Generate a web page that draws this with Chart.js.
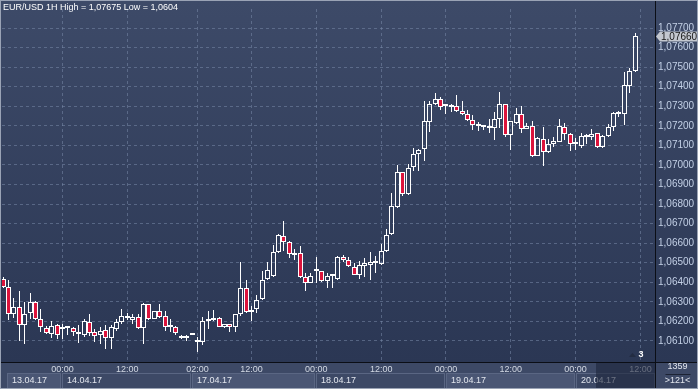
<!DOCTYPE html>
<html>
<head>
<meta charset="utf-8">
<script src="https://cdn.jsdelivr.net/npm/chart.js@4.4.1/dist/chart.umd.min.js"></script>
<style>
  html, body { margin: 0; padding: 0; background: #2f3b58; overflow: hidden; }
  #wrap { width: 698px; height: 389px; }
</style>
</head>
<body>
<div id="wrap"><canvas id="chart" width="698" height="389"></canvas></div>
<script>
// ── Data (EUR/USD 1H) ───────────────────────────────────────
const opens = [
  1.06419, 1.06378, 1.06236, 1.06273, 1.06183, 1.06241, 1.06298, 1.06211, 1.06166, 1.06136,
  1.06181, 1.06159, 1.06164, 1.06164, 1.06147, 1.06131, 1.06198, 1.06147, 1.06131, 1.06156,
  1.06116, 1.06159, 1.06196, 1.06224, 1.06207, 1.06223, 1.06166, 1.06289, 1.06214, 1.06252,
  1.06228, 1.06174, 1.06174, 1.06127, 1.06116, 1.06131, 1.06094, 1.06097, 1.06204, 1.06206,
  1.06219, 1.06169, 1.06186, 1.06169, 1.06239, 1.06369, 1.06248, 1.06261, 1.06314, 1.06416,
  1.06432, 1.06556, 1.06636, 1.06606, 1.06541, 1.06549, 1.06427, 1.06399, 1.06456, 1.06456,
  1.06408, 1.06432, 1.06416, 1.06527, 1.06516, 1.06477, 1.06439, 1.06481, 1.06491, 1.06497,
  1.06494, 1.06561, 1.06649, 1.06786, 1.06964, 1.06853, 1.06991, 1.07056, 1.07081, 1.07219,
  1.07311, 1.07339, 1.07299, 1.07297, 1.07302, 1.07277, 1.07261, 1.07231, 1.07199, 1.07194,
  1.07191, 1.07189, 1.07236, 1.07311, 1.07152, 1.07216, 1.07261, 1.07186, 1.07197, 1.07047,
  1.07133, 1.07066, 1.07106, 1.07119, 1.07194, 1.07156, 1.07106, 1.07099, 1.07141, 1.07141,
  1.07161, 1.07094, 1.07147, 1.07194, 1.07261, 1.07261, 1.07406, 1.07478
];
const highs = [
  1.06425, 1.06411, 1.06319, 1.06356, 1.06298, 1.06343, 1.06306, 1.06261, 1.06178, 1.06202,
  1.06186, 1.06186, 1.06166, 1.06173, 1.06181, 1.06211, 1.06239, 1.06161, 1.06173, 1.06181,
  1.06181, 1.06211, 1.06266, 1.06244, 1.06239, 1.06236, 1.06294, 1.06289, 1.06252, 1.06289,
  1.06252, 1.06214, 1.06178, 1.06133, 1.06131, 1.06133, 1.06122, 1.06223, 1.06252, 1.06258,
  1.06224, 1.06189, 1.06189, 1.06239, 1.06506, 1.06411, 1.06277, 1.06336, 1.06456, 1.06503,
  1.06589, 1.06645, 1.06716, 1.06611, 1.06569, 1.06586, 1.06447, 1.06447, 1.06531, 1.06456,
  1.06447, 1.06439, 1.06536, 1.06539, 1.06527, 1.06497, 1.06511, 1.06522, 1.06556, 1.06533,
  1.06594, 1.06672, 1.06856, 1.06999, 1.06964, 1.07003, 1.07086, 1.07081, 1.07328, 1.07328,
  1.07369, 1.07347, 1.07311, 1.07311, 1.07356, 1.07328, 1.07281, 1.07256, 1.07219, 1.07202,
  1.07236, 1.07269, 1.07373, 1.07311, 1.07227, 1.07291, 1.07302, 1.07216, 1.07227, 1.07144,
  1.07194, 1.07133, 1.07144, 1.07233, 1.07216, 1.07164, 1.07136, 1.07161, 1.07158, 1.07183,
  1.07164, 1.07152, 1.07211, 1.07269, 1.07278, 1.07477, 1.07498, 1.07675
];
const lows = [
  1.06373, 1.06206, 1.06216, 1.06099, 1.06084, 1.06211, 1.06206, 1.06144, 1.06136, 1.06114,
  1.06109, 1.06111, 1.06131, 1.06124, 1.06089, 1.06122, 1.06127, 1.06097, 1.06086, 1.06057,
  1.06061, 1.06152, 1.06189, 1.06206, 1.06186, 1.06159, 1.06086, 1.06206, 1.06211, 1.06219,
  1.06152, 1.06144, 1.06133, 1.06108, 1.06102, 1.06131, 1.06044, 1.06077, 1.06161, 1.06202,
  1.06169, 1.06166, 1.06144, 1.06144, 1.06228, 1.06241, 1.06203, 1.06241, 1.06309, 1.06411,
  1.06427, 1.06552, 1.06561, 1.06522, 1.06514, 1.06422, 1.06356, 1.06394, 1.06397, 1.06403,
  1.06372, 1.06369, 1.06414, 1.06506, 1.06477, 1.06439, 1.06416, 1.06427, 1.06411, 1.06449,
  1.06489, 1.06556, 1.06644, 1.06781, 1.06839, 1.06848, 1.06969, 1.06969, 1.07019, 1.07169,
  1.07306, 1.07283, 1.07261, 1.07272, 1.07272, 1.07256, 1.07227, 1.07181, 1.07174, 1.07181,
  1.07161, 1.07127, 1.07189, 1.07144, 1.07077, 1.07211, 1.07161, 1.07186, 1.07039, 1.07044,
  1.06994, 1.07061, 1.07094, 1.07119, 1.07127, 1.07069, 1.07077, 1.07086, 1.07108, 1.07127,
  1.07089, 1.07089, 1.07144, 1.07172, 1.07244, 1.07202, 1.07366, 1.07474
];
const closes = [
  1.06378, 1.06236, 1.06273, 1.06181, 1.06236, 1.06298, 1.06211, 1.06169, 1.06141, 1.06176,
  1.06131, 1.06164, 1.06166, 1.06144, 1.06136, 1.06202, 1.06139, 1.06126, 1.06152, 1.06116,
  1.06169, 1.06199, 1.06228, 1.06216, 1.06223, 1.06164, 1.06289, 1.06214, 1.06252, 1.06224,
  1.06174, 1.06176, 1.06139, 1.06116, 1.06124, 1.06133, 1.06097, 1.06202, 1.06207, 1.06219,
  1.06174, 1.06186, 1.06169, 1.06236, 1.06369, 1.06247, 1.06258, 1.06311, 1.06414, 1.06461,
  1.06556, 1.06641, 1.06606, 1.06547, 1.06552, 1.06427, 1.06399, 1.06433, 1.06457, 1.06408,
  1.06431, 1.06433, 1.06531, 1.06516, 1.06481, 1.06439, 1.06486, 1.06497, 1.06502, 1.06498,
  1.06561, 1.06644, 1.06791, 1.06964, 1.06853, 1.06986, 1.07056, 1.07077, 1.07227, 1.07311,
  1.07339, 1.07294, 1.07299, 1.07299, 1.07274, 1.07261, 1.07231, 1.07206, 1.07207, 1.07194,
  1.07191, 1.07236, 1.07311, 1.07152, 1.07227, 1.07261, 1.07186, 1.07197, 1.07047, 1.07136,
  1.07066, 1.07106, 1.07122, 1.07197, 1.07156, 1.07106, 1.07108, 1.07147, 1.07152, 1.07158,
  1.07094, 1.07147, 1.07194, 1.07266, 1.07262, 1.07411, 1.07481, 1.07660
];

// time axis: bar index of each labelled hour, and the label
const timeTicks = [11, 23, 36, 46, 58, 70, 82, 94, 106, 118];
const timeLabels = ['00:00', '12:00', '02:00', '12:00', '00:00', '12:00', '00:00', '12:00', '00:00', '12:00'];
// first bar of each trading day
const dayStarts = [0, 11, 35, 58, 82, 106];
const dayLabels = ['13.04.17', '14.04.17', '17.04.17', '18.04.17', '19.04.17', '20.04.17'];
const priceTicks = [1.061, 1.062, 1.063, 1.064, 1.065, 1.066, 1.067, 1.068, 1.069,
                    1.070, 1.071, 1.072, 1.073, 1.074, 1.075, 1.076, 1.077];

const TITLE = 'EUR/USD 1H High = 1,07675 Low = 1,0604';
const BAR_COUNT = '1359';
const VISIBLE = '>121<';

// ── Colours ────────────────────────────────────────────────
const RED = '#dc143c';
const WHITE = '#ffffff';
const GRID = 'rgba(120,136,168,0.55)';
const FONT = "'Liberation Sans', Arial, sans-serif";
const fmt = v => v.toFixed(5).replace('.', ',');

// ── Candle pieces as floating bars ─────────────────────────
const bodies = opens.map((o, i) => ({ x: i, y: [Math.min(o, closes[i]), Math.max(o, closes[i])] }));
const upperWicks = opens.map((o, i) => ({ x: i, y: [Math.max(o, closes[i]), highs[i]] }));
const lowerWicks = opens.map((o, i) => ({ x: i, y: [lows[i], Math.min(o, closes[i])] }));
const bodyFill = opens.map((o, i) => closes[i] < o ? RED : 'rgba(0,0,0,0)');

// ── Snap bars to whole pixels so candles stay crisp ────────
const snap = {
  id: 'snap',
  beforeDatasetsDraw(chart) {
    chart.data.datasets.forEach((ds, d) => {
      chart.getDatasetMeta(d).data.forEach(el => {
        el.x = Math.floor(el.x) + 0.5;
        el.y = Math.round(el.y);
        el.base = Math.round(el.base);
        if (d === 0 && Math.abs(el.base - el.y) < 2) el.y = el.base - 2;
      });
    });
  }
};

// ── Background, axis panel, labels ─────────────────────────
const decor = {
  id: 'decor',
  beforeDraw(chart) {
    const { ctx, chartArea: a, width, height } = chart;
    const g = ctx.createLinearGradient(0, 0, 0, a.bottom);
    g.addColorStop(0, '#3d4a68');
    g.addColorStop(1, '#2b3754');
    ctx.save();
    ctx.fillStyle = g;
    ctx.fillRect(0, 0, width, a.bottom);
    ctx.fillStyle = '#3d4966';
    ctx.fillRect(0, a.bottom, width, height - a.bottom);
    ctx.restore();
  },
  afterDraw(chart) {
    const { ctx, chartArea: a, width, height } = chart;
    const xs = chart.scales.x, ys = chart.scales.y;
    ctx.save();

    // day boxes under the hours
    ctx.font = '9px ' + FONT;
    ctx.textBaseline = 'middle';
    ctx.textAlign = 'left';
    dayStarts.forEach((d, k) => {
      const x0 = k === 0 ? a.left + 5 : Math.round(xs.getPixelForValue(d));
      const x1 = k < dayStarts.length - 1 ? Math.round(xs.getPixelForValue(dayStarts[k + 1])) - 1 : a.right;
      ctx.fillStyle = k % 2 === 0 ? '#4a5674' : '#3d4966';
      ctx.fillRect(x0, 373, x1 - x0, 16);
      ctx.strokeStyle = '#5a6683';
      ctx.lineWidth = 1;
      ctx.strokeRect(x0 + 0.5, 373.5, x1 - x0 - 1, 15);
      ctx.fillStyle = '#e2e6ee';
      ctx.fillText(dayLabels[k], x0 + 5, 380.5);
    });

    // darker strip for the bars still forming
    const sx = Math.round(xs.getPixelForValue(109.8));
    ctx.fillStyle = 'rgba(28,36,58,0.6)';
    ctx.fillRect(sx, a.bottom, a.right - sx, height - a.bottom);

    // separators
    ctx.fillStyle = '#0b0e16';
    ctx.fillRect(a.right, 0, 1, height);
    ctx.fillRect(0, a.bottom, width, 1);

    // last price tag
    const last = closes[closes.length - 1];
    const yp = Math.round(ys.getPixelForValue(last)) + 0.5;
    ctx.fillStyle = '#c3c7cf';
    ctx.beginPath();
    ctx.moveTo(a.right + 1, yp);
    ctx.lineTo(a.right + 5, yp - 5);
    ctx.lineTo(width - 1, yp - 5);
    ctx.lineTo(width - 1, yp + 5);
    ctx.lineTo(a.right + 5, yp + 5);
    ctx.closePath();
    ctx.fill();
    ctx.fillStyle = '#151515';
    ctx.font = '10px ' + FONT;
    ctx.fillText(fmt(last), a.right + 6, yp + 0.5);

    // corner counters
    ctx.textAlign = 'center';
    ctx.font = '9px ' + FONT;
    ctx.fillStyle = '#e2e6ee';
    const cx = (a.right + width) / 2 + 1;
    ctx.fillText(BAR_COUNT, cx, 367);
    ctx.fillText(VISIBLE, cx, 381);
    ctx.fillStyle = '#1c2334';
    ctx.fillRect(cx - 12, 374, 25, 1);

    // small marker near the end of the axis
    ctx.fillStyle = '#232c42';
    ctx.beginPath();
    ctx.moveTo(a.right - 26, a.bottom - 5);
    ctx.lineTo(a.right - 22.5, a.bottom - 9);
    ctx.lineTo(a.right - 19, a.bottom - 5);
    ctx.closePath();
    ctx.fill();
    ctx.fillStyle = WHITE;
    ctx.font = 'bold 9px ' + FONT;
    ctx.fillText('3', a.right - 14, a.bottom - 7);

    // title
    ctx.textAlign = 'left';
    ctx.font = '9px ' + FONT;
    ctx.fillStyle = WHITE;
    ctx.fillText(TITLE, 3, 8);

    // light frame
    ctx.strokeStyle = '#9aa3b5';
    ctx.lineWidth = 1;
    ctx.strokeRect(0.5, 0.5, width - 1, height - 1);
    ctx.restore();
  }
};

new Chart(document.getElementById('chart'), {
  type: 'bar',
  data: {
    datasets: [
      {
        data: bodies,
        backgroundColor: bodyFill,
        borderColor: WHITE,
        borderWidth: 1,
        borderSkipped: false,
        barThickness: 5,
        minBarLength: 2,
        inflateAmount: 0,
        grouped: false,
      },
      {
        data: upperWicks,
        backgroundColor: WHITE,
        borderWidth: 0,
        barThickness: 1,
        inflateAmount: 0,
        grouped: false,
      },
      {
        data: lowerWicks,
        backgroundColor: WHITE,
        borderWidth: 0,
        barThickness: 1,
        inflateAmount: 0,
        grouped: false,
      }
    ]
  },
  options: {
    responsive: false,
    animation: false,
    events: [],
    layout: { padding: { left: 2, top: 1, right: 0, bottom: 0 } },
    plugins: { legend: { display: false }, tooltip: { enabled: false } },
    scales: {
      x: {
        type: 'linear',
        position: 'bottom',
        offset: false,
        min: -0.2,
        max: 120.7,
        afterBuildTicks: s => { s.ticks = timeTicks.map(v => ({ value: v })); },
        afterFit: s => { s.height = 27; },
        grid: { color: GRID, drawTicks: false, offset: false },
        border: { display: false, dash: [3, 3] },
        ticks: {
          autoSkip: false,
          maxRotation: 0,
          padding: 2,
          color: '#d3d9e4',
          font: { family: FONT, size: 9 },
          callback: (v, i) => timeLabels[i]
        }
      },
      y: {
        type: 'linear',
        position: 'right',
        min: 1.059925,
        max: 1.077975,
        afterBuildTicks: s => { s.ticks = priceTicks.map(v => ({ value: v })); },
        afterFit: s => { s.width = 43; },
        grid: { color: GRID, drawTicks: false },
        border: { display: false, dash: [3, 3] },
        ticks: {
          padding: 3,
          color: '#c3d0e6',
          font: { family: FONT, size: 10 },
          callback: v => fmt(v)
        }
      }
    }
  },
  plugins: [snap, decor]
});
</script>
</body>
</html>
